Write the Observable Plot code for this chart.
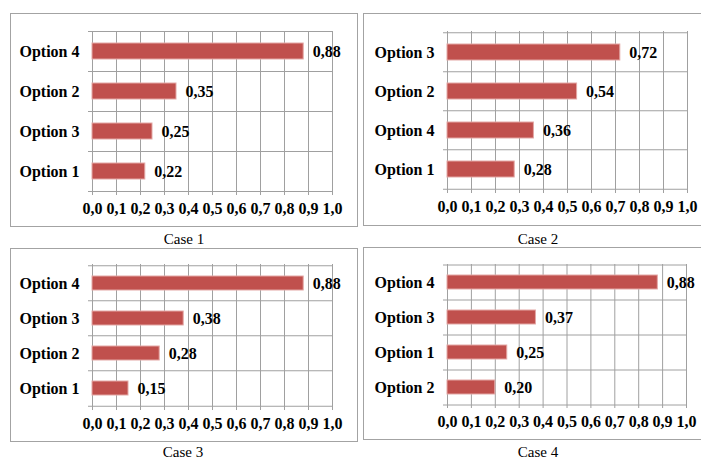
<!DOCTYPE html>
<html>
<head>
<meta charset="utf-8">
<script src="https://cdn.jsdelivr.net/npm/d3@7"></script>
<script src="https://cdn.jsdelivr.net/npm/@observablehq/plot@0.6"></script>
<style>
  html, body { margin: 0; padding: 0; background: #fff; overflow: hidden; }
  #root { position: relative; width: 701px; height: 459px; font-family: "Liberation Serif", "Times New Roman", serif; }
  .panel { position: absolute; box-sizing: border-box; border: 1px solid #a3a3a3; background: #fff; }
  .plot { position: absolute; }
  .cap { position: absolute; font-size: 15px; color: #000; text-align: center; width: 120px; line-height: 15px; }
</style>
</head>
<body>
<div id="root"></div>
<script>
// ---- data ----
const case1Cats = ["Option 4", "Option 2", "Option 3", "Option 1"];
const case1Vals = [0.88, 0.35, 0.25, 0.22];
const case2Cats = ["Option 3", "Option 2", "Option 4", "Option 1"];
const case2Vals = [0.72, 0.54, 0.36, 0.28];
const case3Cats = ["Option 4", "Option 3", "Option 2", "Option 1"];
const case3Vals = [0.88, 0.38, 0.28, 0.15];
const case4Cats = ["Option 4", "Option 3", "Option 1", "Option 2"];
const case4Vals = [0.88, 0.37, 0.25, 0.20];
const xTicks = [0, 0.1, 0.2, 0.3, 0.4, 0.5, 0.6, 0.7, 0.8, 0.9, 1.0];
const xTickLabels = ["0,0", "0,1", "0,2", "0,3", "0,4", "0,5", "0,6", "0,7", "0,8", "0,9", "1,0"];
const captions = ["Case 1", "Case 2", "Case 3", "Case 4"];

// ---- layout ----
const panels = [
  {cats: case1Cats, vals: case1Vals, left: 10, top: 13, width: 348, height: 214, ml: 82, mr: 26, mt: 18, mb: 36, capX: 184, capY: 232},
  {cats: case2Cats, vals: case2Vals, left: 363, top: 13, width: 340, height: 213, ml: 84, mr: 16, mt: 18, mb: 37, capX: 538, capY: 232},
  {cats: case3Cats, vals: case3Vals, left: 10, top: 248, width: 348, height: 194, ml: 82, mr: 26, mt: 16, mb: 36, capX: 183, capY: 445},
  {cats: case4Cats, vals: case4Vals, left: 363, top: 247, width: 340, height: 193, ml: 84, mr: 17, mt: 17, mb: 36, capX: 538, capY: 445}
];

const root = document.getElementById("root");
const barFill = "#c0504d";
const gridColor = "#a0a0a0";
const fmt = v => v.toFixed(2).replace(".", ",");

panels.forEach((p, k) => {
  const box = document.createElement("div");
  box.className = "panel";
  Object.assign(box.style, {left: p.left + "px", top: p.top + "px", width: p.width + "px", height: p.height + "px"});
  root.appendChild(box);

  const data = p.cats.map((c, i) => ({cat: c, val: p.vals[i]}));
  const step = (p.height - p.mt - p.mb) / p.cats.length;

  const chart = Plot.plot({
    width: p.width,
    height: p.height,
    marginLeft: p.ml,
    marginRight: p.mr,
    marginTop: p.mt,
    marginBottom: p.mb,
    style: {fontFamily: "'Liberation Serif', 'Times New Roman', serif", background: "transparent", color: "#000", overflow: "visible"},
    x: {domain: [0, 1]},
    y: {domain: p.cats, paddingInner: 0.6, paddingOuter: 0.3},
    marks: [
      Plot.ruleX(xTicks, {x: d => d, stroke: gridColor, strokeWidth: 1, insetBottom: -4}),
      Plot.ruleY(p.cats, {y: d => d, dy: -step / 2, stroke: gridColor, strokeWidth: 1, insetLeft: -4}),
      Plot.ruleY(p.cats.slice(-1), {y: d => d, dy: step / 2, stroke: gridColor, strokeWidth: 1, insetLeft: -4}),
      Plot.barX(data, {y: "cat", x: "val", fill: barFill, stroke: "#e3a7a5", strokeWidth: 1}),
      Plot.text(data, {y: "cat", x: "val", text: d => fmt(d.val), textAnchor: "start", dx: 9, fontSize: 16, fontWeight: "bold", fill: "#000"}),
      Plot.axisY({tickSize: 0, tickPadding: 13, fontSize: 16, fontWeight: "bold", label: null, fill: "#000"}),
      Plot.axisX(xTicks, {tickSize: 0, tickPadding: 11, tickFormat: (d, i) => xTickLabels[i], fontSize: 16, fontWeight: "bold", label: null, fill: "#000"})
    ]
  });
  chart.classList.add("plot");
  chart.style.left = p.left + "px";
  chart.style.top = p.top + "px";
  root.appendChild(chart);

  const cap = document.createElement("div");
  cap.className = "cap";
  cap.textContent = captions[k];
  cap.style.left = (p.capX - 60) + "px";
  cap.style.top = p.capY + "px";
  root.appendChild(cap);
});
</script>
</body>
</html>
